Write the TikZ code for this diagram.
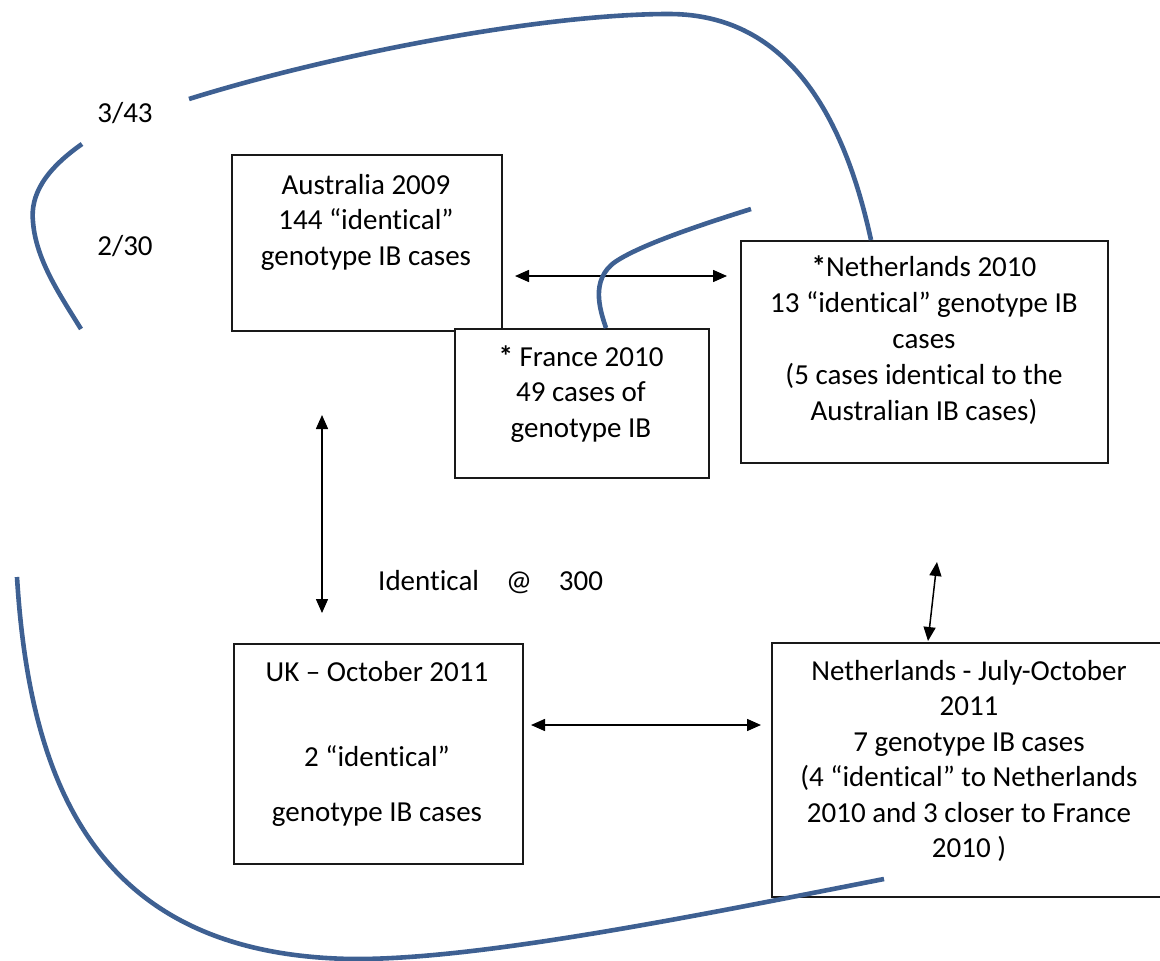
\documentclass[tikz,border=0pt]{standalone}
\usepackage{fontspec}
\setmainfont[Ligatures=NoCommon]{Carlito}
\usetikzlibrary{arrows.meta,calc}
\definecolor{curveblue}{RGB}{62,96,146}
\newcommand\fstrut{\rule{0pt}{24pt}}
\begin{document}
\begin{tikzpicture}[x=1pt,y=-1pt,
  box/.style={draw=black!90, line width=1.7pt, anchor=north west, inner sep=0pt, fill=white},
  txt/.style={font=\fontsize{29}{35.5}\selectfont, align=center, inner sep=0pt, anchor=north},
  lbl/.style={font=\fontsize{29}{35.5}\selectfont, inner sep=0pt, anchor=base},
  dbl/.style={{Triangle[length=14pt,width=12pt]}-{Triangle[length=14pt,width=12pt]}, line width=1.5pt},
  bluecurve/.style={draw=curveblue, line width=4.6pt}]
\useasboundingbox (0,0) rectangle (1160,961);
\clip (0,0) rectangle (1160,961);

% arrow end coordinates
\coordinate (a1) at (515,276);
\coordinate (a2) at (727,276);
\coordinate (v1) at (322,415);
\coordinate (v2) at (322,613);
\coordinate (h1) at (531,725);
\coordinate (h2) at (761,725);
\coordinate (s1) at (937,562);
\coordinate (s2) at (928,641);

% boxes
\node[box, minimum width=270pt, minimum height=176pt] (aus) at (231,154) {};
\node[box, minimum width=254pt, minimum height=149pt] (fra) at (454,328) {};
\node[box, minimum width=367pt, minimum height=222pt] (nl10) at (740,240) {};
\node[box, minimum width=289pt, minimum height=220pt] (uk) at (233,643) {};
\node[box, minimum width=396pt, minimum height=254pt] (nl11) at (771,642) {};

% box texts
\node[txt] (austxt) at (366,170) {\fstrut Australia 2009\\144 “identical”\\genotype IB cases};
\node[txt] (fratxt) at (581,342) {\fstrut\textbf{*} France 2010\\49 cases of\\genotype IB};
\node[txt, font=\fontsize{29}{36}\selectfont] (nl10txt) at (924,252) {\fstrut\textbf{*}Netherlands 2010\\13 “identical” genotype IB\\cases\\(5 cases identical to the\\Australian IB cases)};
\node[txt] (uktxt) at (377,657) {\fstrut UK – October 2011\\[49.5pt]2 “identical”\\[19.5pt]genotype IB cases};
\node[txt] (nl11txt) at (969,656) {\fstrut Netherlands - July-October\\2011\\7 genotype IB cases\\(4 “identical” to Netherlands\\2010 and 3 closer to France\\2010 )};

% labels
\node[lbl] (l343) at (125,122) {3/43};
\node[lbl] (l230) at (125,255) {2/30};
\node[lbl, anchor=base west] (ident) at (378,590) {Identical\hspace{27pt}@\hspace{27pt}300};

% arrows
\draw[dbl] (a1) -- (a2);
\draw[dbl] (v1) -- (v2);
\draw[dbl] (h1) -- (h2);
\draw[dbl] (s1) -- (s2);

% blue curves
\draw[bluecurve] (189,99) .. controls (330,55) and (540,14) .. (669,14)
   .. controls (790,14) and (845,120) .. (nl10.north west -| 871,0);
\draw[bluecurve] (82,144) .. controls (45,170) and (30,195) .. (33,222)
   .. controls (36,260) and (60,295) .. (81,329);
\draw[bluecurve] (751,209) .. controls (700,225) and (640,245) .. (615,262)
   .. controls (590,280) and (600,310) .. (fra.north west -| 606,0);
\draw[bluecurve] (17,577) .. controls (30,790) and (100,955) .. (352,959)
   .. controls (480,960) and (700,915) .. (884,879);
\end{tikzpicture}
\end{document}
